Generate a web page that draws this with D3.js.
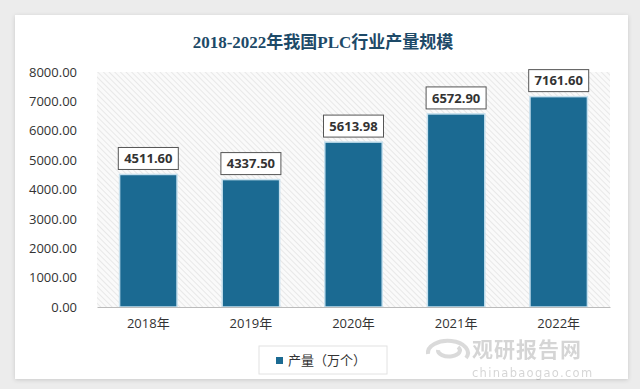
<!DOCTYPE html>
<html>
  <head>
    <meta charset="utf-8">
    <script src="https://d3js.org/d3.v7.min.js"></script>
    <style>
      body { margin: 0; background: #ececec; }
    </style>
  </head>
  <body>
    <script>
        var years = ["2018年", "2019年", "2020年", "2021年", "2022年"]
        var output = [4511.60, 4337.50, 5613.98, 6572.90, 7161.60]
        var yTicks = [0, 1000, 2000, 3000, 4000, 5000, 6000, 7000, 8000]

        var W = 640, H = 389
        var margin = {top: 72, right: 30, bottom: 82, left: 97}
        var width = W - margin.left - margin.right
        var height = H - margin.top - margin.bottom

        var svg = d3.select("body").append("svg")
            .attr("width", W)
            .attr("height", H)

        var defs = svg.append("defs")
        var pat = defs.append("pattern")
            .attr("id", "hatch")
            .attr("patternUnits", "userSpaceOnUse")
            .attr("width", 4).attr("height", 4)
            .attr("patternTransform", "rotate(-45)")
        pat.append("rect").attr("width", 4).attr("height", 4).attr("fill", "#fafafa")
        pat.append("line").attr("x1", 0).attr("y1", 0).attr("x2", 0).attr("y2", 4)
            .attr("stroke", "#dcdcdc").attr("stroke-width", 1.2)

        var shadow = defs.append("filter").attr("id", "shadow")
            .attr("x", "-5%").attr("y", "-5%").attr("width", "110%").attr("height", "110%")
        shadow.append("feDropShadow").attr("dx", 0).attr("dy", 1).attr("stdDeviation", 2)
            .attr("flood-color", "#000").attr("flood-opacity", 0.15)

        // card
        svg.append("rect")
            .attr("x", 15).attr("y", 15).attr("width", 613).attr("height", 364)
            .attr("fill", "#fff")
            .attr("filter", "url(#shadow)")

        var g = svg.append("g")
            .attr("transform", "translate(" + margin.left + "," + margin.top + ")")

        var x = d3.scaleBand().domain(years).range([0, width]).paddingInner(0.44).paddingOuter(0.22)
        var y = d3.scaleLinear().domain([0, 8000]).range([height, 0])

        g.append("rect")
            .attr("width", width).attr("height", height)
            .attr("fill", "url(#hatch)")

        // y axis
        var yAxis = g.append("g")
            .call(d3.axisLeft(y).tickValues(yTicks).tickFormat(d3.format(".2f")).tickSize(0).tickPadding(20))
        yAxis.select(".domain").remove()
        yAxis.selectAll("text")
            .style("font-family", "'Open Sans', 'Noto Sans', sans-serif")
            .style("font-size", "13px")
            .attr("fill", "#333")

        // bars
        g.selectAll(".bar")
            .data(output)
            .enter()
            .append("rect")
                .attr("x", function(d, i) { return x(years[i]) })
                .attr("y", function(d) { return y(d) })
                .attr("width", x.bandwidth())
                .attr("height", function(d) { return height - y(d) })
                .attr("fill", "#1b6a92")
                .attr("stroke", "#c6e0ee")
                .attr("stroke-width", 1.5)

        // x axis
        var xAxis = g.append("g")
            .attr("transform", "translate(0," + height + ")")
            .call(d3.axisBottom(x).tickSize(0).tickPadding(12))
        xAxis.select(".domain").attr("stroke", "#bbb")
        xAxis.selectAll("text")
            .style("font-family", "'Open Sans', 'Noto Sans CJK SC', sans-serif")
            .style("font-size", "13px")
            .attr("fill", "#333")

        // value labels
        var labels = g.selectAll(".lbl")
            .data(output)
            .enter()
            .append("g")
            .attr("transform", function(d, i) {
                return "translate(" + (x(years[i]) + x.bandwidth() / 2) + "," + (y(d) - 16) + ")"
            })
        labels.append("rect")
            .attr("x", -30).attr("y", -11).attr("width", 60).attr("height", 22)
            .attr("fill", "#fff").attr("stroke", "#555").attr("stroke-width", 1)
        labels.append("text")
            .attr("text-anchor", "middle")
            .attr("dy", "0.36em")
            .style("font-family", "'Open Sans', 'Noto Sans', sans-serif")
            .style("font-size", "13px")
            .style("font-weight", "bold")
            .attr("fill", "#333")
            .text(function(d) { return d.toFixed(2) })

        // title
        svg.append("text")
            .attr("x", 323).attr("y", 48)
            .attr("text-anchor", "middle")
            .style("font-family", "'Liberation Serif', 'Noto Sans CJK SC', serif")
            .style("font-size", "17px")
            .style("font-weight", "bold")
            .attr("fill", "#1d4a68")
            .text("2018-2022年我国PLC行业产量规模")

        // legend
        var leg = svg.append("g").attr("transform", "translate(259,346)")
        leg.append("rect").attr("width", 128).attr("height", 28)
            .attr("fill", "#fff").attr("stroke", "#e2e2e2")
        leg.append("rect").attr("x", 17).attr("y", 11).attr("width", 7).attr("height", 7)
            .attr("fill", "#1b6a92")
        leg.append("text").attr("x", 29).attr("y", 19)
            .style("font-family", "'Noto Sans CJK SC', sans-serif")
            .style("font-size", "13px")
            .attr("fill", "#333")
            .text("产量（万个）")

        // watermark
        var wm = svg.append("g").attr("opacity", 0.3)
        wm.append("path")
            .attr("d", "M428,354 a20,12 0 1,1 38,4 M438,350 a11,6 0 1,0 20,-3")
            .attr("fill", "none").attr("stroke", "#888").attr("stroke-width", 4)
        wm.append("text").attr("x", 472).attr("y", 357)
            .style("font-family", "'Noto Sans CJK SC', sans-serif")
            .style("font-size", "21px").style("font-weight", "bold")
            .style("letter-spacing", "1px")
            .attr("fill", "#777")
            .text("观研报告网")
        wm.append("text").attr("x", 472).attr("y", 377)
            .style("font-family", "'DejaVu Sans', sans-serif")
            .style("font-size", "11.5px")
            .style("letter-spacing", "1.3px")
            .attr("fill", "#777")
            .text("chinabaogao.com")
    </script>
  </body>
</html>
